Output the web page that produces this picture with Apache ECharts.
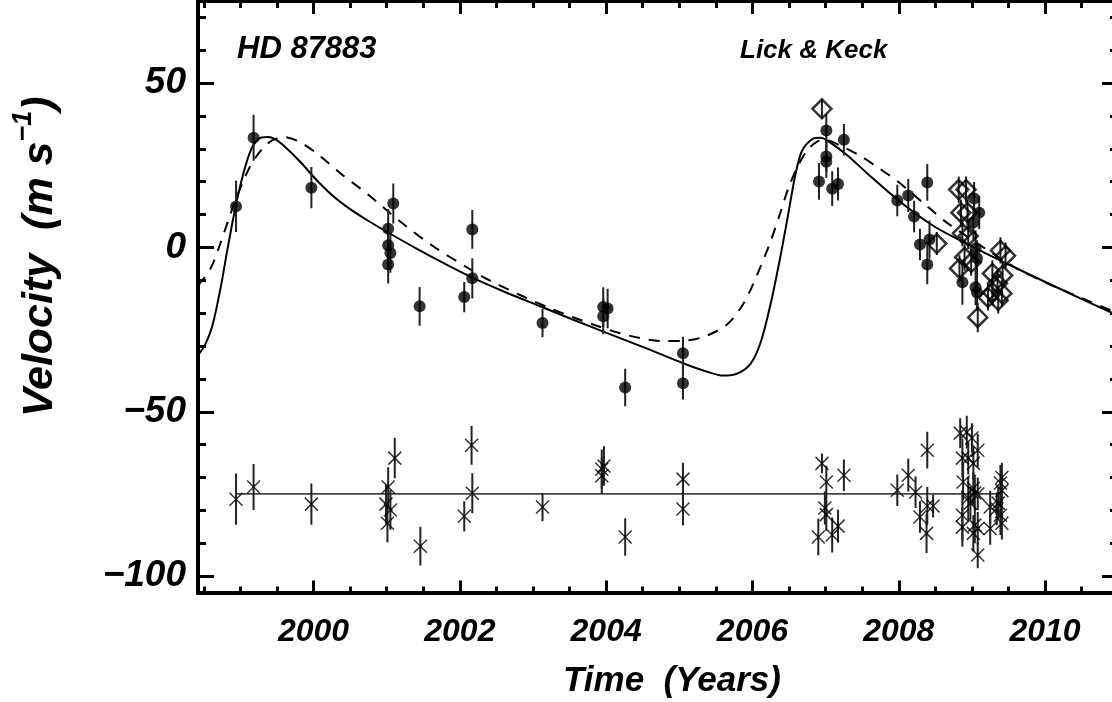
<!DOCTYPE html>
<html>
<head>
<meta charset="utf-8">
<title>HD 87883 radial velocities</title>
<script src="https://cdn.jsdelivr.net/npm/echarts@6/dist/echarts.min.js"></script>
<style>
  html, body { margin: 0; padding: 0; background: #fff; }
  #chart { width: 1112px; height: 702px; }
</style>
</head>
<body>
<div id="chart"></div>
<script>
// ---- Lick velocities (year, m/s, 1-sigma error) ----
const lickYears = [1998.94, 1999.18, 1999.97, 2001.09, 2001.02, 2001.02, 2001.05, 2001.02, 2001.45,
  2002.17, 2002.06, 2002.17, 2003.13, 2003.96, 2004.02, 2003.96, 2004.26, 2005.05, 2005.05,
  2007.01, 2007.25, 2007.01, 2007.01, 2006.91, 2007.09, 2007.17, 2007.98, 2008.13, 2008.39,
  2008.21, 2008.29, 2008.42, 2008.39, 2009.03, 2009.10, 2009.02, 2009.05, 2009.07, 2008.87,
  2009.05, 2009.07];
const lickVel = [12.5, 33.4, 18.2, 13.4, 5.7, 0.7, -1.7, -5.2, -17.9,
  5.5, -15.1, -9.4, -23.0, -18.1, -18.6, -20.9, -42.6, -32.2, -41.3,
  35.6, 32.8, 27.7, 26.1, 20.1, 17.9, 19.3, 14.3, 15.8, 19.8,
  9.4, 0.9, 2.4, -5.2, 14.9, 10.6, 7.6, -0.3, -3.3, -10.6,
  -12.1, -13.7];
const lickErr = [7.8, 7.0, 6.3, 6.1, 6.0, 6.0, 6.0, 5.8, 5.9,
  5.9, 4.6, 6.1, 4.3, 6.0, 6.0, 5.5, 5.7, 5.0, 5.0,
  5.0, 4.8, 5.0, 5.0, 5.6, 5.3, 5.0, 4.8, 5.0, 5.6,
  4.8, 4.8, 5.8, 6.0, 5.0, 5.0, 5.0, 5.5, 5.5, 6.8,
  5.5, 5.5];

// ---- Keck velocities ----
const keckYears = [2006.95, 2008.52, 2008.82, 2008.92, 2008.85, 2008.94, 2008.87, 2008.95, 2008.90,
  2008.99, 2008.83, 2009.08, 2009.39, 2009.46, 2009.28, 2009.42, 2009.35, 2009.28, 2009.41,
  2009.22, 2009.36];
const keckVel = [42.2, 1.2, 17.6, 17.6, 10.6, 10.6, 4.3, 3.5, -3.0,
  -4.6, -6.4, -21.3, -0.9, -2.5, -7.9, -8.5, -10.9, -13.7, -14.0,
  -15.2, -16.1];
const keckErr = [3.0, 3.5, 4.0, 4.0, 4.0, 4.0, 4.0, 4.0, 4.0,
  4.0, 4.0, 4.5, 4.0, 4.0, 4.0, 4.0, 4.0, 4.0, 4.0,
  4.0, 4.0];

// ---- Residuals from the single-planet fit (drawn shifted down by residOffset) ----
const residOffset = -75;
const residYears = [1998.94, 1999.18, 1999.97, 2001.02, 2001.11, 2000.99, 2001.05, 2001.01, 2001.46,
  2002.16, 2002.06, 2002.17, 2003.13, 2003.94, 2003.97, 2003.94, 2004.26, 2005.05, 2005.05,
  2006.95, 2007.01, 2006.99, 2007.01, 2007.25, 2006.90, 2007.09, 2007.17, 2007.98, 2008.13,
  2008.23, 2008.39, 2008.29, 2008.39, 2008.47, 2008.38,
  2008.84, 2008.93, 2009.00, 2009.08, 2008.87, 2008.95, 2009.02, 2008.88, 2009.02, 2009.04,
  2009.08, 2008.95, 2008.98, 2008.87, 2008.87, 2009.04, 2009.08, 2009.02, 2009.08, 2009.25,
  2009.34, 2009.39, 2009.41, 2009.41, 2009.39, 2009.25, 2009.41, 2009.36];
const residVel = [-1.6, 2.1, -3.1, 2.1, 10.9, -3.1, -4.9, -8.9, -15.9,
  14.8, -6.8, 0.2, -4.0, 7.5, 8.5, 5.5, -13.1, 4.5, -4.6,
  9.3, 3.6, -4.3, -6.3, 5.7, -13.1, -12.5, -9.8, 1.1, 5.7,
  0.5, 13.3, -7.0, -3.7, -3.7, -12.0,
  18.5, 18.8, 17.0, 13.3, 10.9, 10.9, 9.3, 3.6, 1.7, 0.3,
  0.0, -1.3, -2.8, -6.5, -10.1, -9.5, -10.5, -12.0, -18.6, -4.0,
  -4.5, 3.3, 5.0, 1.0, -6.5, -10.5, -8.9, -2.8];
const residErr = [7.8, 7.0, 6.3, 6.0, 6.1, 6.0, 6.0, 5.8, 5.9,
  5.9, 4.6, 6.1, 4.3, 6.0, 6.0, 5.5, 5.7, 5.0, 5.0,
  3.0, 5.0, 5.0, 5.0, 4.8, 5.6, 5.3, 5.0, 4.8, 5.0,
  4.8, 5.6, 4.8, 5.8, 3.5, 6.0,
  4.5, 5.0, 4.5, 5.0, 6.0, 5.0, 5.0, 5.5, 5.0, 5.5,
  5.0, 6.5, 5.0, 7.6, 6.0, 5.5, 5.0, 5.5, 4.0, 5.0,
  5.0, 5.5, 4.5, 5.0, 6.0, 5.0, 5.0, 5.0];

// ---- Keplerian fit curves ----
const fitSolidYears = [1998.42, 1998.52, 1998.62, 1998.73, 1998.82, 1998.93, 1999.04, 1999.15, 1999.26,
  1999.37, 1999.48, 1999.59, 1999.82, 2000.05, 2000.27, 2000.51, 2000.74, 2001.03, 2001.42,
  2001.78, 2002.17, 2002.60, 2003.13, 2003.55, 2003.96, 2004.56, 2005.06, 2005.38, 2005.60,
  2005.79, 2005.97, 2006.11, 2006.25, 2006.38, 2006.48, 2006.59, 2006.68, 2006.82, 2006.93,
  2007.02, 2007.30, 2007.57, 2007.98, 2008.47, 2008.94, 2009.39, 2010.07, 2010.97];
const fitSolidVel = [-32.8, -29.5, -23.5, -12.2, -0.9, 12.0, 22.5, 30.0, 33.2,
  33.6, 32.9, 31.0, 26.0, 20.3, 15.6, 11.5, 8.2, 4.4, -0.5,
  -4.8, -9.2, -13.4, -18.2, -22.0, -25.6, -30.8, -35.3, -37.8, -39.0,
  -38.4, -35.5, -29.0, -17.0, -3.0, 9.0, 22.5, 29.5, 33.0, 33.4,
  32.6, 28.0, 22.5, 14.6, 6.6, 1.0, -4.0, -11.2, -20.5];
const fitDashYears = [1998.42, 1998.59, 1998.73, 1998.91, 1999.14, 1999.37, 1999.58, 1999.82, 2000.10,
  2000.37, 2000.74, 2001.19, 2001.64, 2002.10, 2002.42, 2003.20, 2003.88, 2004.33, 2004.78,
  2005.11, 2005.38, 2005.66, 2005.88, 2006.07, 2006.25, 2006.38, 2006.49, 2006.61, 2006.75,
  2006.89, 2007.00, 2007.20, 2007.48, 2007.75, 2007.98, 2008.39, 2008.66, 2009.57, 2010.03,
  2010.48, 2010.97];
const fitDashVel = [-11.6, -6.5, 1.5, 13.0, 25.0, 31.6, 33.6, 32.0, 27.6,
  22.5, 16.2, 7.8, 0.3, -6.1, -10.2, -18.2, -23.9, -26.9, -28.5,
  -28.3, -26.8, -23.3, -17.0, -8.0, 2.0, 10.5, 18.0, 24.3, 29.6,
  32.3, 32.7, 31.0, 27.8, 23.8, 20.2, 12.5, 7.5, -5.8, -10.9,
  -15.2, -19.8];

// ---- Axis ticks ----
const xMajorTicks = [2000, 2002, 2004, 2006, 2008, 2010];
const xMinorTicks = [1998.5, 1999, 1999.5, 2000, 2000.5, 2001, 2001.5, 2002, 2002.5, 2003, 2003.5,
  2004, 2004.5, 2005, 2005.5, 2006, 2006.5, 2007, 2007.5, 2008, 2008.5, 2009, 2009.5, 2010, 2010.5];
const yMajorTicks = [-100, -50, 0, 50];
const yMinorTicks = [-100, -90, -80, -70, -60, -50, -40, -30, -20, -10, 0, 10, 20, 30, 40, 50, 60, 70];

const X_MIN = 1998.42, X_MAX = 2010.97, Y_MIN = -105, Y_MAX = 75;

const FONT = '"Liberation Sans", Arial, Helvetica, sans-serif';
const boldItalic = { fontFamily: FONT, fontWeight: 'bold', fontStyle: 'italic', color: '#000' };

function fmtNum(v) {
  return v < 0 ? '\u2212' + Math.abs(v) : String(v);
}

function pairs(xs, ys, offset) {
  return xs.map((x, i) => [x, ys[i] + (offset || 0)]);
}

// vertical error bars as plain line segments
function errorBarSeries(xs, ys, es, offset, color) {
  return {
    type: 'custom',
    silent: true,
    z: 3,
    clip: true,
    encode: { x: 0, y: [1, 2] },
    data: xs.map((x, i) => [x, ys[i] + offset - es[i], ys[i] + offset + es[i]]),
    renderItem: function (params, api) {
      const p1 = api.coord([api.value(0), api.value(1)]);
      const p2 = api.coord([api.value(0), api.value(2)]);
      return {
        type: 'line',
        shape: { x1: p1[0], y1: p1[1], x2: p2[0], y2: p2[1] },
        style: { stroke: color, lineWidth: 2 }
      };
    }
  };
}

function xAxisDef(position, ticks, tickLen, showLabel, extra) {
  return Object.assign({
    type: 'value', min: X_MIN, max: X_MAX, position: position,
    axisLine: { show: true, onZero: false, lineStyle: { color: '#000', width: 4 } },
    axisTick: { show: true, inside: true, length: tickLen, customValues: ticks,
      lineStyle: { color: '#000', width: 3 } },
    axisLabel: { show: showLabel, customValues: ticks, margin: 24, fontSize: 32,
      formatter: (v) => fmtNum(v), ...boldItalic },
    splitLine: { show: false }
  }, extra || {});
}

function yAxisDef(position, ticks, tickLen, showLabel, extra) {
  return Object.assign({
    type: 'value', min: Y_MIN, max: Y_MAX, position: position,
    axisLine: { show: true, onZero: false, lineStyle: { color: '#000', width: 4 } },
    axisTick: { show: true, inside: true, length: tickLen, customValues: ticks,
      lineStyle: { color: '#000', width: 3 } },
    axisLabel: { show: showLabel, customValues: ticks, margin: 12, fontSize: 37,
      formatter: (v) => fmtNum(v), ...boldItalic },
    splitLine: { show: false }
  }, extra || {});
}

const chart = echarts.init(document.getElementById('chart'), null, { renderer: 'canvas' });

const option = {
  animation: false,
  backgroundColor: '#fff',
  title: [
    { text: 'HD 87883', left: 237, top: 34, padding: 0,
      textStyle: { ...boldItalic, fontSize: 31 } },
    { text: 'Lick & Keck', left: 740, top: 38, padding: 0,
      textStyle: { ...boldItalic, fontSize: 26 } }
  ],
  grid: { left: 198, right: -4, top: 1, bottom: 109.5, containLabel: false, outerBoundsMode: 'none' },
  xAxis: [
    xAxisDef('bottom', xMajorTicks, 12, true, {
      name: 'Time  (Years)', nameLocation: 'middle', nameGap: 71,
      nameTextStyle: { ...boldItalic, fontSize: 35, padding: [0, 0, 0, 30] }
    }),
    xAxisDef('bottom', xMinorTicks, 6, false),
    xAxisDef('top', xMajorTicks, 13, false),
    xAxisDef('top', xMinorTicks, 7, false)
  ],
  yAxis: [
    yAxisDef('left', yMajorTicks, 16, true, {
      name: '{t|Velocity  (m s}{s|\u22121}{t|)}',
      nameLocation: 'middle', nameRotate: 90, nameGap: 136,
      nameTextStyle: {
        ...boldItalic,
        padding: [0, 0, 0, 80],
        rich: {
          t: { ...boldItalic, fontSize: 43, lineHeight: 52, verticalAlign: 'bottom' },
          s: { ...boldItalic, fontSize: 27, lineHeight: 28, verticalAlign: 'top' }
        }
      }
    }),
    yAxisDef('left', yMinorTicks, 8, false),
    yAxisDef('right', yMajorTicks, 14, false),
    yAxisDef('right', yMinorTicks, 6, false)
  ],
  series: [
    {
      name: 'fit', type: 'line', data: pairs(fitSolidYears, fitSolidVel),
      smooth: 0.3, showSymbol: false, silent: true, z: 2,
      lineStyle: { color: '#000', width: 2 }
    },
    {
      name: 'fit (alt)', type: 'line', data: pairs(fitDashYears, fitDashVel),
      smooth: 0.3, showSymbol: false, silent: true, z: 2,
      lineStyle: { color: '#000', width: 2, type: [11, 9] }
    },
    {
      name: 'residual zero', type: 'line', silent: true, showSymbol: false, z: 2,
      data: [[Math.min(...residYears), residOffset], [Math.max(...residYears), residOffset]],
      lineStyle: { color: '#444', width: 1.6 }
    },
    errorBarSeries(lickYears, lickVel, lickErr, 0, '#222'),
    errorBarSeries(keckYears, keckVel, keckErr, 0, '#222'),
    errorBarSeries(residYears, residVel, residErr, residOffset, '#222'),
    {
      name: 'Lick', type: 'scatter', data: pairs(lickYears, lickVel), z: 4,
      symbol: 'circle', symbolSize: 12, itemStyle: { color: '#000' }
    },
    {
      name: 'Keck', type: 'scatter', data: pairs(keckYears, keckVel), z: 5,
      symbol: 'diamond', symbolSize: 19,
      itemStyle: { color: 'rgba(0,0,0,0)', borderColor: '#000', borderWidth: 2.5 }
    },
    {
      name: 'residuals', type: 'scatter', data: pairs(residYears, residVel, residOffset), z: 4,
      symbol: 'path://M0,0L10,10M10,0L0,10', symbolSize: 13,
      itemStyle: { color: 'rgba(0,0,0,0)', borderColor: '#000', borderWidth: 1.5 }
    }
  ]
};

chart.setOption(option);
</script>
</body>
</html>
